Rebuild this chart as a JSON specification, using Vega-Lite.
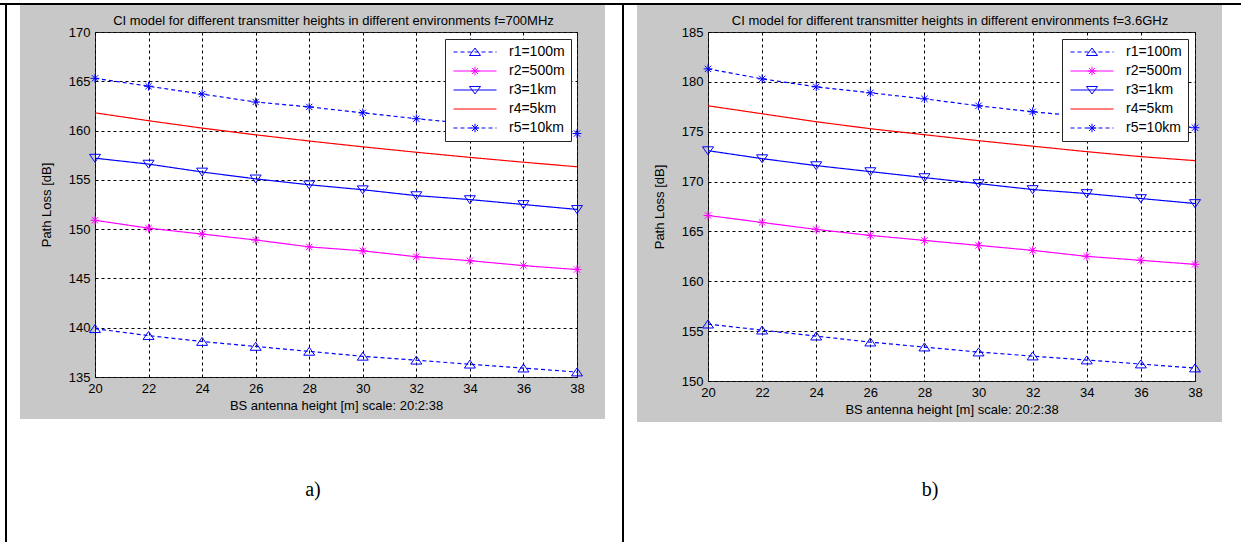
{
  "$schema": "https://vega.github.io/schema/vega-lite/v6.json",
  "background": "#c8c8c8",
  "padding": 0,
  "spacing": 0,
  "bounds": "full",
  "data": {"name": "frame"},
  "config": {
    "view": {"stroke": null},
    "concat": {"spacing": 0},
    "font": "Liberation Sans",
    "title": {"font": "Liberation Sans", "fontSize": 13, "fontWeight": "normal", "color": "black"},
    "axis": {"grid": true, "gridColor": "black", "gridDash": [3, 3], "gridOpacity": 1, "gridWidth": 1, "domain": false, "ticks": false, "tickSize": 0, "labelFont": "Liberation Sans", "labelFontSize": 13, "labelColor": "black", "labelPadding": 5, "labelFlush": false, "labelOverlap": false, "labelBound": false, "titleFont": "Liberation Sans", "titleFontSize": 13, "titleFontWeight": "normal", "titleColor": "black"},
    "axisX": {"titlePadding": 4},
    "axisY": {"titlePadding": 15}
  },
  "datasets": {
    "frame": [{"part": "frame"}],
    "capA": [{"caption": "a)"}],
    "capB": [{"caption": "b)"}],
    "a": [
      {"height": 20, "series": "r1=100m", "pathloss": 139.9}, {"height": 22, "series": "r1=100m", "pathloss": 139.2}, {"height": 24, "series": "r1=100m", "pathloss": 138.6}, {"height": 26, "series": "r1=100m", "pathloss": 138.1}, {"height": 28, "series": "r1=100m", "pathloss": 137.6}, {"height": 30, "series": "r1=100m", "pathloss": 137.1}, {"height": 32, "series": "r1=100m", "pathloss": 136.7}, {"height": 34, "series": "r1=100m", "pathloss": 136.3}, {"height": 36, "series": "r1=100m", "pathloss": 135.9}, {"height": 38, "series": "r1=100m", "pathloss": 135.5},
      {"height": 20, "series": "r2=500m", "pathloss": 150.9}, {"height": 22, "series": "r2=500m", "pathloss": 150.1}, {"height": 24, "series": "r2=500m", "pathloss": 149.5}, {"height": 26, "series": "r2=500m", "pathloss": 148.9}, {"height": 28, "series": "r2=500m", "pathloss": 148.2}, {"height": 30, "series": "r2=500m", "pathloss": 147.8}, {"height": 32, "series": "r2=500m", "pathloss": 147.2}, {"height": 34, "series": "r2=500m", "pathloss": 146.8}, {"height": 36, "series": "r2=500m", "pathloss": 146.3}, {"height": 38, "series": "r2=500m", "pathloss": 145.9},
      {"height": 20, "series": "r3=1km", "pathloss": 157.2}, {"height": 22, "series": "r3=1km", "pathloss": 156.6}, {"height": 24, "series": "r3=1km", "pathloss": 155.8}, {"height": 26, "series": "r3=1km", "pathloss": 155.1}, {"height": 28, "series": "r3=1km", "pathloss": 154.5}, {"height": 30, "series": "r3=1km", "pathloss": 154.0}, {"height": 32, "series": "r3=1km", "pathloss": 153.4}, {"height": 34, "series": "r3=1km", "pathloss": 153.0}, {"height": 36, "series": "r3=1km", "pathloss": 152.5}, {"height": 38, "series": "r3=1km", "pathloss": 152.0},
      {"height": 20, "series": "r4=5km", "pathloss": 161.8}, {"height": 22, "series": "r4=5km", "pathloss": 161.0}, {"height": 24, "series": "r4=5km", "pathloss": 160.25}, {"height": 26, "series": "r4=5km", "pathloss": 159.57}, {"height": 28, "series": "r4=5km", "pathloss": 158.94}, {"height": 30, "series": "r4=5km", "pathloss": 158.35}, {"height": 32, "series": "r4=5km", "pathloss": 157.8}, {"height": 34, "series": "r4=5km", "pathloss": 157.28}, {"height": 36, "series": "r4=5km", "pathloss": 156.79}, {"height": 38, "series": "r4=5km", "pathloss": 156.33},
      {"height": 20, "series": "r5=10km", "pathloss": 165.3}, {"height": 22, "series": "r5=10km", "pathloss": 164.5}, {"height": 24, "series": "r5=10km", "pathloss": 163.7}, {"height": 26, "series": "r5=10km", "pathloss": 162.9}, {"height": 28, "series": "r5=10km", "pathloss": 162.4}, {"height": 30, "series": "r5=10km", "pathloss": 161.8}, {"height": 32, "series": "r5=10km", "pathloss": 161.2}, {"height": 34, "series": "r5=10km", "pathloss": 160.7}, {"height": 36, "series": "r5=10km", "pathloss": 160.2}, {"height": 38, "series": "r5=10km", "pathloss": 159.7}
    ],
    "b": [
      {"height": 20, "series": "r1=100m", "pathloss": 155.7}, {"height": 22, "series": "r1=100m", "pathloss": 155.1}, {"height": 24, "series": "r1=100m", "pathloss": 154.5}, {"height": 26, "series": "r1=100m", "pathloss": 153.9}, {"height": 28, "series": "r1=100m", "pathloss": 153.4}, {"height": 30, "series": "r1=100m", "pathloss": 152.9}, {"height": 32, "series": "r1=100m", "pathloss": 152.5}, {"height": 34, "series": "r1=100m", "pathloss": 152.1}, {"height": 36, "series": "r1=100m", "pathloss": 151.7}, {"height": 38, "series": "r1=100m", "pathloss": 151.3},
      {"height": 20, "series": "r2=500m", "pathloss": 166.6}, {"height": 22, "series": "r2=500m", "pathloss": 165.9}, {"height": 24, "series": "r2=500m", "pathloss": 165.2}, {"height": 26, "series": "r2=500m", "pathloss": 164.6}, {"height": 28, "series": "r2=500m", "pathloss": 164.1}, {"height": 30, "series": "r2=500m", "pathloss": 163.6}, {"height": 32, "series": "r2=500m", "pathloss": 163.1}, {"height": 34, "series": "r2=500m", "pathloss": 162.5}, {"height": 36, "series": "r2=500m", "pathloss": 162.1}, {"height": 38, "series": "r2=500m", "pathloss": 161.7},
      {"height": 20, "series": "r3=1km", "pathloss": 173.1}, {"height": 22, "series": "r3=1km", "pathloss": 172.3}, {"height": 24, "series": "r3=1km", "pathloss": 171.6}, {"height": 26, "series": "r3=1km", "pathloss": 171.0}, {"height": 28, "series": "r3=1km", "pathloss": 170.4}, {"height": 30, "series": "r3=1km", "pathloss": 169.8}, {"height": 32, "series": "r3=1km", "pathloss": 169.2}, {"height": 34, "series": "r3=1km", "pathloss": 168.8}, {"height": 36, "series": "r3=1km", "pathloss": 168.3}, {"height": 38, "series": "r3=1km", "pathloss": 167.8},
      {"height": 20, "series": "r4=5km", "pathloss": 177.6}, {"height": 22, "series": "r4=5km", "pathloss": 176.8}, {"height": 24, "series": "r4=5km", "pathloss": 176.0}, {"height": 26, "series": "r4=5km", "pathloss": 175.3}, {"height": 28, "series": "r4=5km", "pathloss": 174.7}, {"height": 30, "series": "r4=5km", "pathloss": 174.1}, {"height": 32, "series": "r4=5km", "pathloss": 173.55}, {"height": 34, "series": "r4=5km", "pathloss": 173.0}, {"height": 36, "series": "r4=5km", "pathloss": 172.5}, {"height": 38, "series": "r4=5km", "pathloss": 172.1},
      {"height": 20, "series": "r5=10km", "pathloss": 181.3}, {"height": 22, "series": "r5=10km", "pathloss": 180.3}, {"height": 24, "series": "r5=10km", "pathloss": 179.5}, {"height": 26, "series": "r5=10km", "pathloss": 178.9}, {"height": 28, "series": "r5=10km", "pathloss": 178.3}, {"height": 30, "series": "r5=10km", "pathloss": 177.6}, {"height": 32, "series": "r5=10km", "pathloss": 177.0}, {"height": 34, "series": "r5=10km", "pathloss": 176.5}, {"height": 36, "series": "r5=10km", "pathloss": 176.0}, {"height": 38, "series": "r5=10km", "pathloss": 175.4}
    ]
  },
  "vconcat": [
    {"width": 1241, "height": 3, "mark": {"type": "rect", "color": "white"}, "encoding": {}},
    {"width": 1241, "height": 2, "mark": {"type": "rect", "color": "black"}, "encoding": {}},
    {
      "spacing": 0, "bounds": "full",
      "hconcat": [
        {"width": 5, "height": 537, "mark": {"type": "rect", "color": "white"}, "encoding": {}},
        {"width": 2, "height": 537, "mark": {"type": "rect", "color": "black"}, "encoding": {}},
        {
          "spacing": 0, "bounds": "full",
          "vconcat": [
            {
              "spacing": 0, "bounds": "full",
              "hconcat": [
                {"width": 13, "height": 414, "mark": {"type": "rect", "color": "white"}, "encoding": {}},
                {
                  "columns": 3, "spacing": 0, "bounds": "flush", "align": "each",
                  "concat": [
                    {"width": 75, "height": 27, "mark": {"type": "rect", "opacity": 0}, "encoding": {}},
                    {"width": 1, "height": 1, "mark": {"type": "rect", "opacity": 0}, "encoding": {}},
                    {"width": 28, "height": 1, "mark": {"type": "rect", "opacity": 0}, "encoding": {}},
                    {"width": 1, "height": 1, "mark": {"type": "rect", "opacity": 0}, "encoding": {}},
                    {
                      "width": 482, "height": 345,
                      "view": {"fill": "white", "stroke": "#262626", "strokeWidth": 1},
                      "title": {"text": "CI model for different transmitter heights in different environments f=700MHz", "frame": "group", "anchor": "middle", "offset": -2, "dx": -2.5},
                      "resolve": {"scale": {"color": "independent", "shape": "independent", "strokeDash": "independent"}},
                      "layer": [
                        {
                          "data": {"name": "a"},
                          "mark": {"type": "line", "strokeWidth": 1.2},
                          "encoding": {
                            "x": {"field": "height", "type": "quantitative", "scale": {"domain": [20, 38], "nice": false, "zero": false}, "axis": {"title": "BS antenna height [m] scale: 20:2:38", "values": [20, 22, 24, 26, 28, 30, 32, 34, 36, 38]}},
                            "y": {"field": "pathloss", "type": "quantitative", "scale": {"domain": [135, 170], "nice": false, "zero": false}, "axis": {"title": "Path Loss [dB]", "values": [135, 140, 145, 150, 155, 160, 165, 170]}},
                            "color": {"field": "series", "type": "nominal", "scale": {"domain": ["r1=100m", "r2=500m", "r3=1km", "r4=5km", "r5=10km"], "range": ["#0000ff", "#ff00ff", "#0000ff", "#ff0000", "#0000ff"]}, "legend": null},
                            "strokeDash": {"field": "series", "type": "nominal", "scale": {"domain": ["r1=100m", "r2=500m", "r3=1km", "r4=5km", "r5=10km"], "range": [[4, 3], [1, 0], [1, 0], [1, 0], [4, 3]]}, "legend": null}
                          }
                        },
                        {
                          "data": {"name": "a"},
                          "transform": [{"filter": "datum.series !== 'r4=5km'"}],
                          "mark": {"type": "point", "filled": false, "opacity": 1, "size": 121, "strokeWidth": 1},
                          "encoding": {
                            "x": {"field": "height", "type": "quantitative", "scale": {"domain": [20, 38], "nice": false, "zero": false}, "axis": {"title": "BS antenna height [m] scale: 20:2:38", "values": [20, 22, 24, 26, 28, 30, 32, 34, 36, 38]}},
                            "y": {"field": "pathloss", "type": "quantitative", "scale": {"domain": [135, 170], "nice": false, "zero": false}, "axis": {"title": "Path Loss [dB]", "values": [135, 140, 145, 150, 155, 160, 165, 170]}},
                            "color": {"field": "series", "type": "nominal", "scale": {"domain": ["r1=100m", "r2=500m", "r3=1km", "r4=5km", "r5=10km"], "range": ["#0000ff", "#ff00ff", "#0000ff", "#ff0000", "#0000ff"]}, "legend": null},
                            "shape": {"field": "series", "type": "nominal", "scale": {"domain": ["r1=100m", "r2=500m", "r3=1km", "r5=10km"], "range": ["M-1,0.7L0,-0.75L1,0.7Z", "M-0.8,0L0.8,0M0,-0.8L0,0.8M-0.57,-0.57L0.57,0.57M-0.57,0.57L0.57,-0.57", "M-1,-0.7L0,0.75L1,-0.7Z", "M-0.8,0L0.8,0M0,-0.8L0,0.8M-0.57,-0.57L0.57,0.57M-0.57,0.57L0.57,-0.57"]}, "legend": null}
                          }
                        },
                        {
                          "data": {"name": "a"},
                          "mark": {"type": "point", "filled": false, "opacity": 0, "size": 121},
                          "encoding": {
                            "x": {"field": "height", "type": "quantitative", "scale": {"domain": [20, 38], "nice": false, "zero": false}, "axis": {"title": "BS antenna height [m] scale: 20:2:38", "values": [20, 22, 24, 26, 28, 30, 32, 34, 36, 38]}},
                            "y": {"field": "pathloss", "type": "quantitative", "scale": {"domain": [135, 170], "nice": false, "zero": false}, "axis": {"title": "Path Loss [dB]", "values": [135, 140, 145, 150, 155, 160, 165, 170]}},
                            "color": {"field": "series", "type": "nominal", "scale": {"domain": ["r1=100m", "r2=500m", "r3=1km", "r4=5km", "r5=10km"], "range": ["#0000ff", "#ff00ff", "#0000ff", "#ff0000", "#0000ff"]},
                              "legend": {"orient": "none", "legendX": 350, "legendY": 7, "title": null, "fillColor": "white", "strokeColor": "#262626", "padding": 6, "symbolSize": 1849, "symbolStrokeWidth": 1, "symbolOpacity": 1, "symbolOffset": 2, "clipHeight": 14, "rowPadding": 5, "labelOffset": 12, "labelFontSize": 14, "labelFont": "Liberation Sans", "labelColor": "black", "zindex": 2, "cornerRadius": 0}},
                            "shape": {"field": "series", "type": "nominal", "scale": {"domain": ["r1=100m", "r2=500m", "r3=1km", "r4=5km", "r5=10km"], "range": [
                              "M-1,0L-0.814,0M-0.674,0L-0.488,0M-0.349,0L-0.163,0M-0.023,0L0.163,0M0.302,0L0.488,0M0.628,0L0.814,0M0.953,0L1,0M-0.256,0.163L0,-0.186L0.256,0.163Z",
                              "M-1,0L1,0M-0.2,0L0.2,0M0,-0.2L0,0.2M-0.14,-0.14L0.14,0.14M-0.14,0.14L0.14,-0.14",
                              "M-1,0L1,0M-0.256,-0.163L0,0.186L0.256,-0.163Z",
                              "M-1,0L1,0",
                              "M-1,0L-0.814,0M-0.674,0L-0.488,0M-0.349,0L-0.163,0M-0.023,0L0.163,0M0.302,0L0.488,0M0.628,0L0.814,0M0.953,0L1,0M-0.2,0L0.2,0M0,-0.2L0,0.2M-0.14,-0.14L0.14,0.14M-0.14,0.14L0.14,-0.14"]},
                              "legend": {"orient": "none", "legendX": 350, "legendY": 7, "title": null, "fillColor": "white", "strokeColor": "#262626", "padding": 6, "symbolSize": 1849, "symbolStrokeWidth": 1, "symbolOpacity": 1, "symbolOffset": 2, "clipHeight": 14, "rowPadding": 5, "labelOffset": 12, "labelFontSize": 14, "labelFont": "Liberation Sans", "labelColor": "black", "zindex": 2, "cornerRadius": 0}}
                          }
                        }
                      ]
                    },
                    {"width": 1, "height": 1, "mark": {"type": "rect", "opacity": 0}, "encoding": {}},
                    {"width": 1, "height": 42, "mark": {"type": "rect", "opacity": 0}, "encoding": {}}
                  ]
                },
                {"width": 17, "height": 414, "mark": {"type": "rect", "color": "white"}, "encoding": {}}
              ]
            },
            {
              "width": 615, "height": 123,
              "layer": [
                {"mark": {"type": "rect", "color": "white"}, "encoding": {}},
                {"data": {"name": "capA"}, "mark": {"type": "text", "font": "Liberation Serif", "fontSize": 20, "color": "black", "dx": -1.5, "dy": 9.5}, "encoding": {"text": {"field": "caption"}}}
              ]
            }
          ]
        },
        {"width": 2, "height": 537, "mark": {"type": "rect", "color": "black"}, "encoding": {}},
        {
          "spacing": 0, "bounds": "full",
          "vconcat": [
            {
              "spacing": 0, "bounds": "full",
              "hconcat": [
                {"width": 13, "height": 417, "mark": {"type": "rect", "color": "white"}, "encoding": {}},
                {
                  "columns": 3, "spacing": 0, "bounds": "flush", "align": "each",
                  "concat": [
                    {"width": 71, "height": 27, "mark": {"type": "rect", "opacity": 0}, "encoding": {}},
                    {"width": 1, "height": 1, "mark": {"type": "rect", "opacity": 0}, "encoding": {}},
                    {"width": 27, "height": 1, "mark": {"type": "rect", "opacity": 0}, "encoding": {}},
                    {"width": 1, "height": 1, "mark": {"type": "rect", "opacity": 0}, "encoding": {}},
                    {
                      "width": 487, "height": 349,
                      "view": {"fill": "white", "stroke": "#262626", "strokeWidth": 1},
                      "title": {"text": "CI model for different transmitter heights in different environments f=3.6GHz", "frame": "group", "anchor": "middle", "offset": -2, "dx": -1.5},
                      "resolve": {"scale": {"color": "independent", "shape": "independent", "strokeDash": "independent"}},
                      "layer": [
                        {
                          "data": {"name": "b"},
                          "mark": {"type": "line", "strokeWidth": 1.2},
                          "encoding": {
                            "x": {"field": "height", "type": "quantitative", "scale": {"domain": [20, 38], "nice": false, "zero": false}, "axis": {"title": "BS antenna height [m] scale: 20:2:38", "values": [20, 22, 24, 26, 28, 30, 32, 34, 36, 38]}},
                            "y": {"field": "pathloss", "type": "quantitative", "scale": {"domain": [150, 185], "nice": false, "zero": false}, "axis": {"title": "Path Loss [dB]", "values": [150, 155, 160, 165, 170, 175, 180, 185]}},
                            "color": {"field": "series", "type": "nominal", "scale": {"domain": ["r1=100m", "r2=500m", "r3=1km", "r4=5km", "r5=10km"], "range": ["#0000ff", "#ff00ff", "#0000ff", "#ff0000", "#0000ff"]}, "legend": null},
                            "strokeDash": {"field": "series", "type": "nominal", "scale": {"domain": ["r1=100m", "r2=500m", "r3=1km", "r4=5km", "r5=10km"], "range": [[4, 3], [1, 0], [1, 0], [1, 0], [4, 3]]}, "legend": null}
                          }
                        },
                        {
                          "data": {"name": "b"},
                          "transform": [{"filter": "datum.series !== 'r4=5km'"}],
                          "mark": {"type": "point", "filled": false, "opacity": 1, "size": 121, "strokeWidth": 1},
                          "encoding": {
                            "x": {"field": "height", "type": "quantitative", "scale": {"domain": [20, 38], "nice": false, "zero": false}, "axis": {"title": "BS antenna height [m] scale: 20:2:38", "values": [20, 22, 24, 26, 28, 30, 32, 34, 36, 38]}},
                            "y": {"field": "pathloss", "type": "quantitative", "scale": {"domain": [150, 185], "nice": false, "zero": false}, "axis": {"title": "Path Loss [dB]", "values": [150, 155, 160, 165, 170, 175, 180, 185]}},
                            "color": {"field": "series", "type": "nominal", "scale": {"domain": ["r1=100m", "r2=500m", "r3=1km", "r4=5km", "r5=10km"], "range": ["#0000ff", "#ff00ff", "#0000ff", "#ff0000", "#0000ff"]}, "legend": null},
                            "shape": {"field": "series", "type": "nominal", "scale": {"domain": ["r1=100m", "r2=500m", "r3=1km", "r5=10km"], "range": ["M-1,0.7L0,-0.75L1,0.7Z", "M-0.8,0L0.8,0M0,-0.8L0,0.8M-0.57,-0.57L0.57,0.57M-0.57,0.57L0.57,-0.57", "M-1,-0.7L0,0.75L1,-0.7Z", "M-0.8,0L0.8,0M0,-0.8L0,0.8M-0.57,-0.57L0.57,0.57M-0.57,0.57L0.57,-0.57"]}, "legend": null}
                          }
                        },
                        {
                          "data": {"name": "b"},
                          "mark": {"type": "point", "filled": false, "opacity": 0, "size": 121},
                          "encoding": {
                            "x": {"field": "height", "type": "quantitative", "scale": {"domain": [20, 38], "nice": false, "zero": false}, "axis": {"title": "BS antenna height [m] scale: 20:2:38", "values": [20, 22, 24, 26, 28, 30, 32, 34, 36, 38]}},
                            "y": {"field": "pathloss", "type": "quantitative", "scale": {"domain": [150, 185], "nice": false, "zero": false}, "axis": {"title": "Path Loss [dB]", "values": [150, 155, 160, 165, 170, 175, 180, 185]}},
                            "color": {"field": "series", "type": "nominal", "scale": {"domain": ["r1=100m", "r2=500m", "r3=1km", "r4=5km", "r5=10km"], "range": ["#0000ff", "#ff00ff", "#0000ff", "#ff0000", "#0000ff"]},
                              "legend": {"orient": "none", "legendX": 354, "legendY": 7, "title": null, "fillColor": "white", "strokeColor": "#262626", "padding": 6, "symbolSize": 1849, "symbolStrokeWidth": 1, "symbolOpacity": 1, "symbolOffset": 2, "clipHeight": 14, "rowPadding": 5, "labelOffset": 12, "labelFontSize": 14, "labelFont": "Liberation Sans", "labelColor": "black", "zindex": 2, "cornerRadius": 0}},
                            "shape": {"field": "series", "type": "nominal", "scale": {"domain": ["r1=100m", "r2=500m", "r3=1km", "r4=5km", "r5=10km"], "range": [
                              "M-1,0L-0.814,0M-0.674,0L-0.488,0M-0.349,0L-0.163,0M-0.023,0L0.163,0M0.302,0L0.488,0M0.628,0L0.814,0M0.953,0L1,0M-0.256,0.163L0,-0.186L0.256,0.163Z",
                              "M-1,0L1,0M-0.2,0L0.2,0M0,-0.2L0,0.2M-0.14,-0.14L0.14,0.14M-0.14,0.14L0.14,-0.14",
                              "M-1,0L1,0M-0.256,-0.163L0,0.186L0.256,-0.163Z",
                              "M-1,0L1,0",
                              "M-1,0L-0.814,0M-0.674,0L-0.488,0M-0.349,0L-0.163,0M-0.023,0L0.163,0M0.302,0L0.488,0M0.628,0L0.814,0M0.953,0L1,0M-0.2,0L0.2,0M0,-0.2L0,0.2M-0.14,-0.14L0.14,0.14M-0.14,0.14L0.14,-0.14"]},
                              "legend": {"orient": "none", "legendX": 354, "legendY": 7, "title": null, "fillColor": "white", "strokeColor": "#262626", "padding": 6, "symbolSize": 1849, "symbolStrokeWidth": 1, "symbolOpacity": 1, "symbolOffset": 2, "clipHeight": 14, "rowPadding": 5, "labelOffset": 12, "labelFontSize": 14, "labelFont": "Liberation Sans", "labelColor": "black", "zindex": 2, "cornerRadius": 0}}
                          }
                        }
                      ]
                    },
                    {"width": 1, "height": 1, "mark": {"type": "rect", "opacity": 0}, "encoding": {}},
                    {"width": 1, "height": 41, "mark": {"type": "rect", "opacity": 0}, "encoding": {}}
                  ]
                },
                {"width": 19, "height": 417, "mark": {"type": "rect", "color": "white"}, "encoding": {}}
              ]
            },
            {
              "width": 617, "height": 120,
              "layer": [
                {"mark": {"type": "rect", "color": "white"}, "encoding": {}},
                {"data": {"name": "capB"}, "mark": {"type": "text", "font": "Liberation Serif", "fontSize": 20, "color": "black", "dx": -2.5, "dy": 8}, "encoding": {"text": {"field": "caption"}}}
              ]
            }
          ]
        }
      ]
    }
  ]
}
